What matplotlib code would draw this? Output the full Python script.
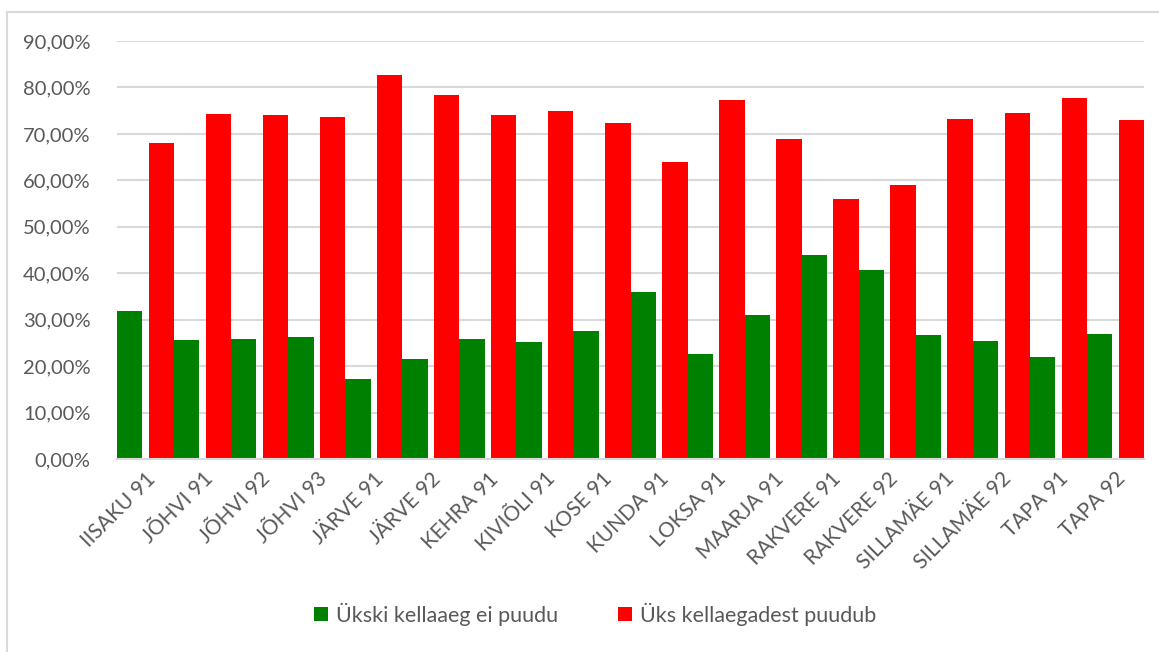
import numpy as np
import matplotlib
matplotlib.use("Agg")
import matplotlib.pyplot as plt
from matplotlib.lines import Line2D
from matplotlib.ticker import FuncFormatter

categories = ["IISAKU 91", "JÕHVI 91", "JÕHVI 92", "JÕHVI 93", "JÄRVE 91", "JÄRVE 92",
              "KEHRA 91", "KIVIÕLI 91", "KOSE 91", "KUNDA 91", "LOKSA 91", "MAARJA 91",
              "RAKVERE 91", "RAKVERE 92", "SILLAMÄE 91", "SILLAMÄE 92", "TAPA 91", "TAPA 92"]
none_missing = [31.8, 25.7, 25.9, 26.3, 17.3, 21.5, 25.9, 25.1, 27.5, 36.0,
                22.7, 31.0, 44.0, 40.8, 26.7, 25.5, 22.0, 27.0]
one_missing = [68.1, 74.2, 74.1, 73.6, 82.6, 78.4, 74.0, 74.9, 72.4, 63.9,
               77.2, 68.9, 55.9, 59.1, 73.2, 74.4, 77.7, 73.0]
series_names = ["Ükski kellaaeg ei puudu", "Üks kellaegadest puudub"]

GREEN = "#008000"
RED = "#ff0000"
TXT = "#595959"
GRID = "#d9d9d9"
plt.rcParams['font.family'] = ['Lato', 'DejaVu Sans']

fig = plt.figure(figsize=(11.59, 6.52), dpi=100)
ax = fig.add_axes([117/1159, 1 - 459/652, (1144-117)/1159, (459-41)/652])

x = np.arange(len(categories))
w = 1/2.25
g = np.array(none_missing) / 100
r = np.array(one_missing) / 100
ax.bar(x - 0.5 + w/2, g, width=w, color=GREEN, label=series_names[0], zorder=3)
ax.bar(x + 0.5 - w/2, r, width=w, color=RED, label=series_names[1], zorder=3)

ax.set_xlim(-0.5, len(categories) - 0.5)
ax.set_ylim(0, 0.9)
ax.set_yticks(np.arange(0, 0.91, 0.1))
ax.yaxis.set_major_formatter(FuncFormatter(lambda v, p: f"{v*100:.2f}%".replace(".", ",")))
ax.grid(axis='y', color=GRID, linewidth=1.5, zorder=0)
for s in ['top', 'right', 'left']:
    ax.spines[s].set_visible(False)
ax.spines['bottom'].set_color(GRID)
ax.spines['bottom'].set_linewidth(1.5)
ax.spines['bottom'].set_zorder(4)
ax.tick_params(axis='y', length=0, pad=19, labelsize=14.5, labelcolor=TXT)
ax.tick_params(axis='x', length=0, pad=7, labelsize=15, labelcolor=TXT)
ax.set_xticks(x)
ax.set_xticklabels(categories, rotation=45, ha='right', rotation_mode='anchor')

leg = fig.legend(loc='center', bbox_to_anchor=(595/1159, 1 - 614/652), ncol=2, frameon=False,
                 fontsize=15.5, handlelength=0.65, handleheight=0.65, handletextpad=0.35,
                 columnspacing=2.8, labelcolor=TXT)

fig.add_artist(Line2D([7/1159, 7/1159], [0, 1 - 12/652], color=GRID, linewidth=1.5))
fig.add_artist(Line2D([7/1159, 1], [1 - 12/652, 1 - 12/652], color=GRID, linewidth=1.5))

fig.savefig("out.png", dpi=100)
